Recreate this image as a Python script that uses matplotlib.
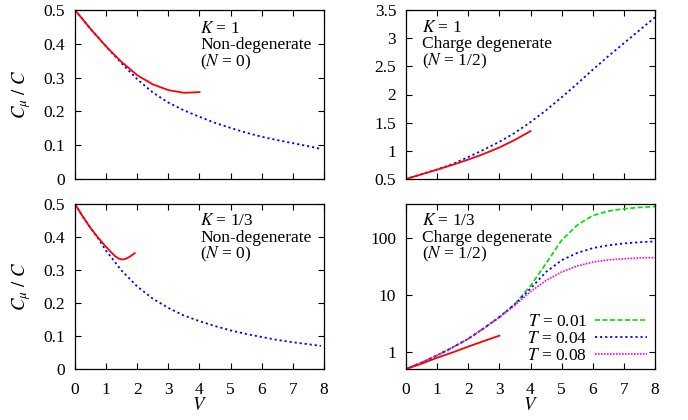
#!/usr/bin/env python3
import matplotlib as mpl
mpl.use('Agg')
import matplotlib.pyplot as plt
from matplotlib.ticker import FixedLocator, FormatStrFormatter, NullLocator

plt.rcParams['font.family'] = ['Liberation Serif', 'DejaVu Serif']
plt.rcParams['mathtext.fontset'] = 'stix'
plt.rcParams['font.size'] = 12.5

# ---- data ----
# K = 1, non-degenerate
v_k1_nd = [0, 0.5, 1, 1.5, 2, 2.5, 3, 3.5, 4, 4.5, 5, 5.5, 6, 6.5, 7, 7.5, 7.9]
c_k1_nd_blue = [0.5, 0.444, 0.392, 0.342, 0.295, 0.256, 0.226, 0.203, 0.184,
                0.166, 0.151, 0.137, 0.125, 0.115, 0.106, 0.097, 0.089]
v_k1_nd_red = [0, 0.5, 1, 1.5, 2, 2.5, 3, 3.5, 4]
c_k1_nd_red = [0.5, 0.444, 0.392, 0.346, 0.307, 0.280, 0.263, 0.255, 0.257]

# K = 1, charge degenerate
v_k1_cd = [0, 0.5, 1, 1.5, 2, 2.5, 3, 3.5, 4, 4.5, 5, 5.5, 6, 6.5, 7, 7.5, 8]
c_k1_cd_blue = [0.5, 0.585, 0.67, 0.765, 0.89, 1.02, 1.16, 1.32, 1.51, 1.72,
                1.95, 2.19, 2.44, 2.68, 2.91, 3.14, 3.37]
v_k1_cd_red = [0, 0.5, 1, 1.5, 2, 2.5, 3, 3.5, 4]
c_k1_cd_red = [0.5, 0.583, 0.666, 0.752, 0.845, 0.945, 1.06, 1.195, 1.35]

# K = 1/3, non-degenerate
v_k3_nd = [0, 0.25, 0.5, 0.75, 1, 1.5, 2, 2.5, 3, 3.5, 4, 4.5, 5, 5.5, 6, 6.5, 7, 7.5, 7.9]
c_k3_nd_blue = [0.5, 0.462, 0.428, 0.395, 0.358, 0.298, 0.250, 0.213, 0.185,
                0.162, 0.145, 0.130, 0.117, 0.106, 0.097, 0.088, 0.081, 0.075, 0.070]
v_k3_nd_red = [0, 0.25, 0.5, 0.75, 1, 1.1, 1.2, 1.3, 1.4, 1.5, 1.6, 1.7, 1.8, 1.92]
c_k3_nd_red = [0.5, 0.462, 0.427, 0.397, 0.370, 0.360, 0.350, 0.341, 0.335,
               0.332, 0.333, 0.337, 0.343, 0.351]

# K = 1/3, charge degenerate (log scale)
v_k3_cd = [0, 0.5, 1, 1.5, 2, 2.5, 3, 3.5, 4, 4.5, 5, 5.5, 6, 6.5, 7, 7.5, 8]
c_t001 = [0.5, 0.65, 0.87, 1.2, 1.7, 2.6, 4.1, 7.0, 14.5, 36, 92, 170, 250, 300, 330, 348, 360]
c_t004 = [0.5, 0.65, 0.87, 1.2, 1.7, 2.6, 4.1, 6.9, 13.0, 25.5, 41, 55, 67, 75, 81, 85, 88]
c_t008 = [0.5, 0.65, 0.87, 1.2, 1.7, 2.6, 4.05, 6.6, 11.5, 18, 25.5, 32.5, 38, 41.5, 43.5, 45, 45.5]
v_k3_cd_red = [0, 0.5, 1, 1.5, 2, 2.5, 3]
c_k3_cd_red = [0.5, 0.62, 0.79, 0.98, 1.24, 1.55, 1.93]
t_labels = ['$T$ = 0.01', '$T$ = 0.04', '$T$ = 0.08']

panel_text = [
    ['$K$ = 1', 'Non-degenerate', '($N$ = 0)'],
    ['$K$ = 1', 'Charge degenerate', '($N$ = 1/2)'],
    ['$K$ = 1/3', 'Non-degenerate', '($N$ = 0)'],
    ['$K$ = 1/3', 'Charge degenerate', '($N$ = 1/2)'],
]

RED = '#ff0000'
BLUE = '#0000ff'
GREEN = '#00dd00'
MAGENTA = '#ff00ff'
dotted = (0, (1.2, 1.6))

fig = plt.figure(figsize=(6.88, 4.2), dpi=100)
W, H = 688.0, 420.0


def mkax(l, t, r, b):
    return fig.add_axes([l / W, 1 - b / H, (r - l) / W, (b - t) / H])


ax1 = mkax(75, 10, 324, 179)
ax2 = mkax(406, 10, 655, 179)
ax3 = mkax(75, 204, 324, 369)
ax4 = mkax(406, 204, 655, 369)

ax1.plot(v_k1_nd, c_k1_nd_blue, color=BLUE, ls=dotted, lw=1.3)
ax1.plot(v_k1_nd_red, c_k1_nd_red, color=RED, lw=1.3)
ax2.plot(v_k1_cd, c_k1_cd_blue, color=BLUE, ls=dotted, lw=1.3)
ax2.plot(v_k1_cd_red, c_k1_cd_red, color=RED, lw=1.3)
ax3.plot(v_k3_nd, c_k3_nd_blue, color=BLUE, ls=dotted, lw=1.3)
ax3.plot(v_k3_nd_red, c_k3_nd_red, color=RED, lw=1.3)

l1, = ax4.plot(v_k3_cd, c_t001, color=GREEN, ls=(0, (3, 1.5)), lw=1.2)
l2, = ax4.plot(v_k3_cd, c_t004, color=BLUE, ls=dotted, lw=1.3)
l3, = ax4.plot(v_k3_cd, c_t008, color=MAGENTA, ls=(0, (1, 0.8)), lw=1.2)
ax4.plot(v_k3_cd_red, c_k3_cd_red, color=RED, lw=1.3)

for ax in (ax1, ax2, ax3, ax4):
    ax.set_xlim(0, 8)
    ax.set_xticks(range(0, 9))
    ax.tick_params(direction='in', top=True, right=True, length=4, width=0.8,
                   labelsize=12.5)
    ax.tick_params(axis='x', pad=9)
    ax.tick_params(axis='y', pad=7)
    for s in ax.spines.values():
        s.set_linewidth(0.9)

ax1.set_ylim(0, 0.5)
ax1.set_yticks([0, 0.1, 0.2, 0.3, 0.4, 0.5])
ax3.set_ylim(0, 0.5)
ax3.set_yticks([0, 0.1, 0.2, 0.3, 0.4, 0.5])
ax2.set_ylim(0.5, 3.5)
ax2.set_yticks([0.5, 1, 1.5, 2, 2.5, 3, 3.5])
for ax in (ax1, ax2, ax3):
    ax.yaxis.set_major_formatter(FormatStrFormatter('%g'))

ax4.set_yscale('log')
ax4.set_ylim(0.5, 400)
ax4.yaxis.set_major_locator(FixedLocator([1, 10, 100]))
ax4.yaxis.set_minor_locator(NullLocator())
ax4.yaxis.set_major_formatter(FormatStrFormatter('%g'))

ax1.tick_params(labelbottom=False)
ax2.tick_params(labelbottom=False)

for ax in (ax1, ax3):
    ax.set_ylabel(r'$C_\mu\ /\ C$', fontsize=13.5, labelpad=8)
for ax in (ax3, ax4):
    ax.set_xlabel('$V$', fontsize=13.5, labelpad=0)

text_pos = [(0.502, [0.864, 0.769, 0.669]),
            (0.063, [0.872, 0.775, 0.675]),
            (0.502, [0.873, 0.772, 0.673]),
            (0.063, [0.873, 0.772, 0.673])]
for ax, lines, (tx, tys) in zip((ax1, ax2, ax3, ax4), panel_text, text_pos):
    for line, ty in zip(lines, tys):
        ax.text(tx, ty, line, transform=ax.transAxes, ha='left', va='baseline',
                fontsize=12.5)

ax4.legend([l1, l2, l3], t_labels, loc='lower right', frameon=False,
           markerfirst=False, handlelength=3.0, handletextpad=0.45,
           labelspacing=0.05, borderaxespad=0.2, fontsize=12.5,
           bbox_to_anchor=(1.01, -0.035))

fig.savefig('out.png', dpi=100)
